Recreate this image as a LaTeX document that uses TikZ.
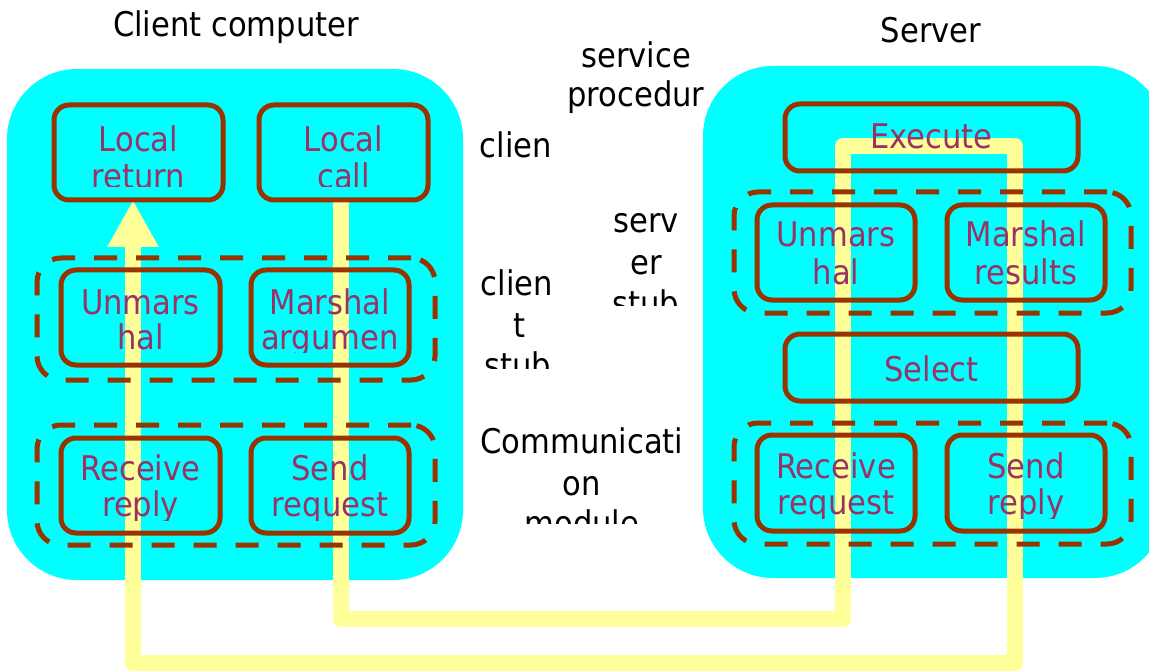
\documentclass[tikz,border=0pt]{standalone}
\usepackage{fontspec}
\setmainfont{DejaVu Sans Condensed}
\usetikzlibrary{arrows.meta}
\definecolor{panelcyan}{HTML}{00FFFF}
\definecolor{flowyel}{HTML}{FFFF99}
\definecolor{rust}{HTML}{993300}
\definecolor{plum}{HTML}{993366}
\pgfdeclarelayer{panels}
\pgfdeclarelayer{flow}
\pgfsetlayers{panels,flow,main}
\tikzset{
  panelbox/.style={fill=panelcyan, draw=none, rounded corners=70pt, inner sep=0pt, outer sep=0pt},
  unitbox/.style={draw=rust, line width=5pt, rounded corners=15pt, inner sep=0pt, outer sep=0pt},
  layerbox/.style={draw=rust, line width=5pt, dash pattern=on 23pt off 19pt, rounded corners=24pt, inner sep=0pt, outer sep=0pt},
  flowline/.style={draw=flowyel, line width=16pt, line join=round, -{Triangle[width=48pt,length=47pt]}},
  lbl/.style={anchor=base, inner sep=0pt, outer sep=0pt, font=\fontsize{34}{40}\selectfont},
  boxlbl/.style={lbl, text=plum},
}
\begin{document}
\begin{tikzpicture}[x=1pt, y=-1pt]
\useasboundingbox (0,0) rectangle (1149,671);

% computers
\begin{pgfonlayer}{panels}
  \node[panelbox, minimum width=456pt, minimum height=511pt] (clientpc) at (235,324.5) {};
  \node[panelbox, minimum width=462pt, minimum height=512pt] (serverpc) at (934,322) {};
\end{pgfonlayer}

% client side modules
\node[unitbox, minimum width=169pt, minimum height=95pt] (locret) at (138.5,152.5) {};
\node[unitbox, minimum width=169pt, minimum height=95pt] (loccall) at (343.5,152.5) {};
\node[layerbox, minimum width=398pt, minimum height=122pt] (cstub) at (236,319) {};
\node[unitbox, minimum width=159pt, minimum height=95pt] (cunm) at (140.5,317.5) {};
\node[unitbox, minimum width=158pt, minimum height=95pt] (cmarg) at (330,317.5) {};
\node[layerbox, minimum width=398pt, minimum height=120pt] (ccomm) at (236,485) {};
\node[unitbox, minimum width=159pt, minimum height=95pt] (crecv) at (140.5,485.5) {};
\node[unitbox, minimum width=158pt, minimum height=95pt] (csend) at (330,485.5) {};

% server side modules
\node[unitbox, minimum width=293pt, minimum height=67pt] (exec) at (931.5,137.5) {};
\node[layerbox, minimum width=397pt, minimum height=121pt] (sstub) at (932.5,252.5) {};
\node[unitbox, minimum width=158pt, minimum height=95pt] (sunm) at (836,252.5) {};
\node[unitbox, minimum width=158pt, minimum height=95pt] (smres) at (1026,252.5) {};
\node[unitbox, minimum width=293pt, minimum height=67pt] (select) at (931.5,367.5) {};
\node[layerbox, minimum width=397pt, minimum height=121pt] (scomm) at (932.5,483.5) {};
\node[unitbox, minimum width=158pt, minimum height=96pt] (srecv) at (836,483) {};
\node[unitbox, minimum width=158pt, minimum height=96pt] (ssend) at (1026,483) {};

% request / reply flow
\coordinate (reqdown) at (341,619);
\coordinate (reqin) at (843,619);
\coordinate (exin) at (843,146);
\coordinate (exout) at (1015,146);
\coordinate (repdown) at (1015,663);
\coordinate (repin) at (133,663);
\begin{pgfonlayer}{flow}
  \draw[flowline] (reqdown |- loccall.south) -- (reqdown) -- (reqin) -- (exin)
    -- (exout) -- (repdown) -- (repin) -- (repin |- locret.south);
\end{pgfonlayer}

% headings
\node[lbl] (tclient) at (236,37) {Client computer};
\node[lbl] (tserver) at (931,43) {Server};

% layer names
\node[lbl] (tsvc1) at (636,68) {service};
\node[lbl] (tsvc2) at (636,107) {procedur};
\node[lbl] (tcli) at (516,158) {clien};
\node[lbl] (tss1) at (646,233) {serv};
\node[lbl] (tss2) at (646,275) {er};
\begin{scope}
  \clip (560,250) rectangle (740,305);
  \node[lbl] (tss3) at (646,315) {stub};
\end{scope}
\node[lbl] (tcs1) at (517,295) {clien};
\node[lbl] (tcs2) at (519,337) {t};
\begin{scope}
  \clip (430,340) rectangle (610,368);
  \node[lbl] (tcs3) at (518,377) {stub};
\end{scope}
\node[lbl] (tcm1) at (582,453) {Communicati};
\node[lbl] (tcm2) at (582,495) {on};
\begin{scope}
  \clip (470,500) rectangle (700,523);
  \node[lbl] (tcm3) at (582,535) {module};
\end{scope}

% client module texts
\node[boxlbl] (tlr1) at (138.5,152) {Local};
\begin{scope}
  \clip (60,160) rectangle (420,187);
  \node[boxlbl] (tlr2) at (138.5,189) {return};
  \node[boxlbl] (tlc2) at (343.5,189) {call};
\end{scope}
\node[boxlbl] (tlc1) at (343.5,152) {Local};
\node[boxlbl] (tcu1) at (140.5,314) {Unmars};
\node[boxlbl] (tcu2) at (140.5,349) {hal};
\node[boxlbl] (tma1) at (330,314) {Marshal};
\begin{scope}
  \clip (240,320) rectangle (420,352);
  \node[boxlbl] (tma2) at (330,349) {argumen};
\end{scope}
\node[boxlbl] (tcr1) at (140.5,480) {Receive};
\node[boxlbl] (tcsd1) at (330,480) {Send};
\begin{scope}
  \clip (60,488) rectangle (420,520);
  \node[boxlbl] (tcr2) at (140.5,516) {reply};
  \node[boxlbl] (tcsd2) at (330,516) {request};
\end{scope}

% server module texts
\node[boxlbl] (tex) at (931.5,149) {Execute};
\node[boxlbl] (tsu1) at (836,247) {Unmars};
\node[boxlbl] (tsu2) at (836,284) {hal};
\node[boxlbl] (tsm1) at (1026,247) {Marshal};
\node[boxlbl] (tsm2) at (1026,284) {results};
\node[boxlbl] (tsel) at (931.5,381) {Select};
\node[boxlbl] (tsr1) at (836,478) {Receive};
\node[boxlbl] (tssd1) at (1026,478) {Send};
\begin{scope}
  \clip (760,486) rectangle (1110,518);
  \node[boxlbl] (tsr2) at (836,514) {request};
  \node[boxlbl] (tssd2) at (1026,514) {reply};
\end{scope}
\end{tikzpicture}
\end{document}
